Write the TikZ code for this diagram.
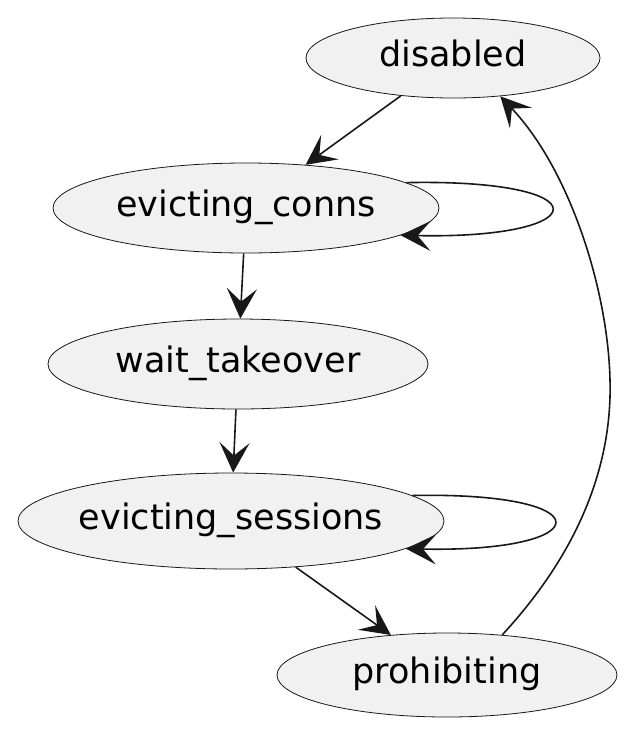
\documentclass[tikz,border=0pt]{standalone}
\usepackage{fontspec}
\setmainfont{DejaVu Sans}
\usetikzlibrary{shapes.geometric,arrows.meta}
\definecolor{statefill}{HTML}{F1F1F1}
\definecolor{stateline}{HTML}{181818}
\tikzset{
	state/.style={ellipse, draw=stateline, fill=statefill, line width=0.8pt, inner sep=-2pt,
		font=\fontsize{35}{40}\selectfont, text height=24pt, text depth=8pt},
	trans/.style={draw=stateline, line width=1.6pt,
		-{Stealth[length=30pt,width=30pt,inset=13pt]}}
}
\begin{document}
\begin{tikzpicture}[x=1pt,y=-1pt]
	\useasboundingbox (0,0) rectangle (644,732);
	% states
	\node[state, minimum width=294pt, minimum height=80pt] (disabled) at (453,58) {disabled};
	\node[state, minimum width=386pt, minimum height=90pt] (evicting_conns) at (246,208) {evicting\_conns};
	\node[state, minimum width=380pt, minimum height=90pt] (wait_takeover) at (238,364) {wait\_takeover};
	\node[state, minimum width=426pt, minimum height=96pt] (evicting_sessions) at (231,521) {evicting\_sessions};
	\node[state, minimum width=340pt, minimum height=84pt] (prohibiting) at (447,675) {prohibiting};
	
	% transitions
	\draw[trans] (disabled) -- (evicting_conns);
	\draw[trans] (evicting_conns) -- (wait_takeover);
	\draw[trans] (wait_takeover) -- (evicting_sessions);
	\draw[trans] (evicting_sessions) -- (prohibiting);
	\draw[trans] (evicting_conns.9.4) .. controls +(198,-4) and +(196,4) .. (evicting_conns.-10);
	\draw[trans] (evicting_sessions.8.7) .. controls +(193,-4) and +(193,4) .. (evicting_sessions.-9);
	\draw[trans] (prohibiting.36) .. controls (590,540) and (612,450) .. (610,380)
		.. controls (608,290) and (570,170) .. (disabled.-39);
\end{tikzpicture}
\end{document}
